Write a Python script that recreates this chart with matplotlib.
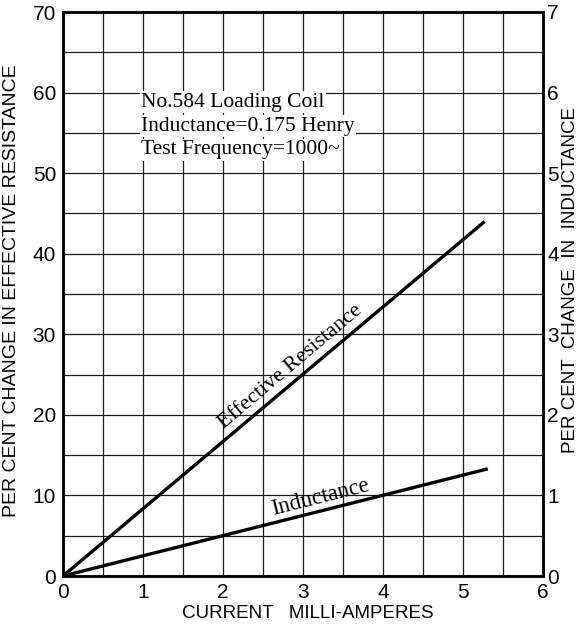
import numpy as np
import matplotlib
matplotlib.use('Agg')
import matplotlib.pyplot as plt

# values
current_res = [0.0, 5.27]
resistance_pct = [0.0, 44.0]
current_ind = [0.0, 5.31]
inductance_pct = [0.0, 1.33]

x_ticks = [0, 1, 2, 3, 4, 5, 6]
left_ticks = [0, 10, 20, 30, 40, 50, 60, 70]
right_ticks = [0, 1, 2, 3, 4, 5, 6, 7]

note_lines = ['No.584 Loading Coil', 'Inductance=0.175 Henry', 'Test Frequency=1000~']

sans = ['Liberation Sans', 'DejaVu Sans']
serif = ['Liberation Serif', 'DejaVu Serif']


def main():
    fig = plt.figure(figsize=(5.82, 6.25), dpi=100)
    ax = fig.add_axes([63 / 582, 1 - 576 / 625, 480 / 582, 564 / 625])
    ax2 = ax.twinx()

    ax.set_xlim(0, 6)
    ax.set_ylim(0, 70)
    ax2.set_ylim(0, 7)

    # grid every half milliampere and every 5 per cent
    for gx in np.arange(0.5, 6, 0.5):
        ax.axvline(gx, color='#1a1a1a', lw=0.9, zorder=1)
    for gy in np.arange(5, 70, 5):
        ax.axhline(gy, color='#1a1a1a', lw=0.9, zorder=1)

    ax.plot(current_res, resistance_pct, color='black', lw=2.4, zorder=3,
            solid_capstyle='butt')
    ax2.plot(current_ind, inductance_pct, color='black', lw=2.4, zorder=3,
             solid_capstyle='butt')

    ax.set_xticks(x_ticks)
    ax.set_yticks(left_ticks)
    ax2.set_yticks(right_ticks)
    for a in (ax, ax2):
        a.tick_params(length=0, labelsize=15, pad=5)
        for lab in a.get_xticklabels() + a.get_yticklabels():
            lab.set_family(sans)
        for sp in a.spines.values():
            sp.set_linewidth(1.8)
    ax2.tick_params(axis='y', pad=3)

    ax.set_xlabel('CURRENT   MILLI-AMPERES', family=sans, fontsize=13.5)
    ax.set_ylabel('PER CENT CHANGE IN EFFECTIVE RESISTANCE', family=sans,
                  fontsize=14)
    ax2.set_ylabel('PER CENT  CHANGE  IN  INDUCTANCE', family=sans, fontsize=13.5)
    ax.xaxis.set_label_coords(0.51, -0.052)
    ax.yaxis.set_label_coords(-0.09, 0.505)
    ax2.yaxis.set_label_coords(1.039, 0.525)

    # note block, each line blanks the grid behind it
    for i, line in enumerate(note_lines):
        ax.text(0.975, 58.8 - 2.95 * i, line, family=serif, fontsize=15.5,
                va='center', ha='left', zorder=4,
                bbox=dict(facecolor='white', edgecolor='none', pad=1.0))

    ax.text(2.84, 26.0, 'Effective Resistance', family=serif, fontsize=16,
            ha='center', va='center', rotation=40.2, rotation_mode='anchor',
            zorder=4)
    ax.text(3.22, 9.7, 'Inductance', family=serif, fontsize=16.5,
            ha='center', va='center', rotation=14.2, rotation_mode='anchor',
            zorder=4)

    fig.savefig('out.png', dpi=100)
    plt.close(fig)


if __name__ == '__main__':
    main()
